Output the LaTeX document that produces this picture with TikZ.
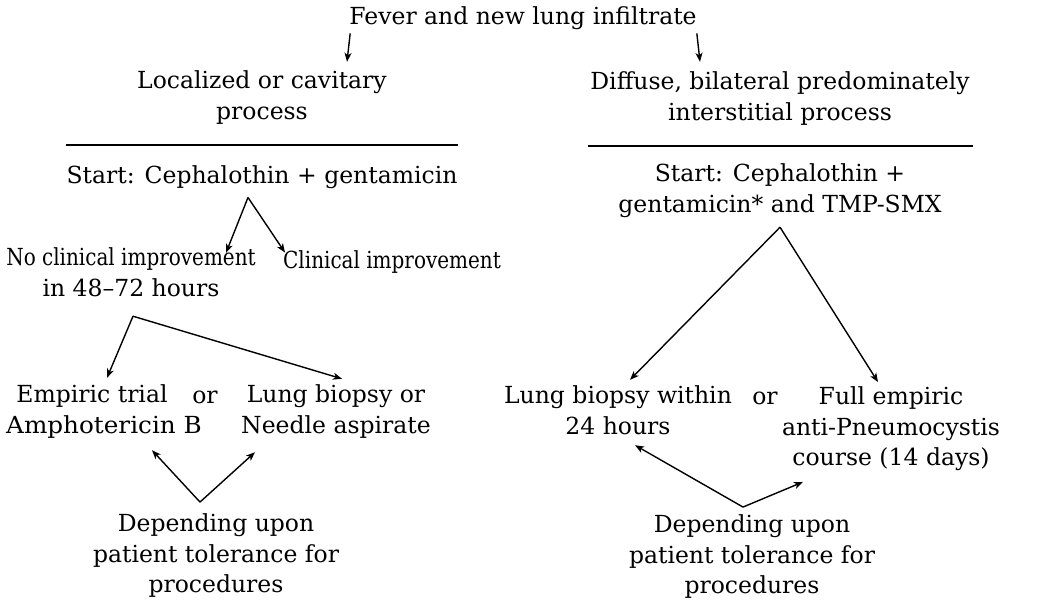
\documentclass[tikz,border=0pt]{standalone}
\usepackage{fontspec}
\usepackage{graphicx}
\setmainfont{DejaVu Serif}
\usetikzlibrary{calc,arrows.meta}
% text narrowed or widened horizontally only
\newcommand\narrow[2]{\scalebox{#1}[1]{#2}}
\begin{document}
\begin{tikzpicture}[x=1pt,y=-1pt,
  txt/.style={inner sep=0pt,align=center,font=\fontsize{23.5}{30.5}\selectfont},
  arr/.style={line width=1.4pt,-{Stealth[length=9pt,width=7pt,inset=2.5pt]}},
  rule/.style={line width=2pt}]
\useasboundingbox (0,0) rectangle (1040,606);

% header and the two kinds of infiltrate
\node[txt] (fever) at (523,18) {\strut Fever and new lung infiltrate};
\node[txt] (loc) at (262,98) {\strut Localized or cavitary\\\strut process};
\node[txt] (dif) at (780,99) {\strut Diffuse, bilateral predominately\\\strut interstitial process};

% left branch
\node[txt] (startL) at (262,177) {\strut Start: Cephalothin + gentamicin};
\node[txt] (noimp) at (131,275) {\strut\narrow{0.85}{No clinical improvement}\\\strut in 48--72 hours};
\node[txt] (clin) at (392,262) {\strut\narrow{0.85}{Clinical improvement}};
\node[txt] (emp) at (104,412) {\strut Empiric trial\hspace*{24pt}\mbox{}\\\strut \narrow{1.05}{Amphotericin B}};
\node[txt] (orL) at (205,397) {\strut or};
\node[txt] (lung) at (336,412) {\strut Lung biopsy or\\\strut Needle aspirate};
\node[txt] (depL) at (216,556) {\strut Depending upon\\\strut patient tolerance for\\\strut procedures};

% right branch
\node[txt] (startR) at (780,191) {\strut Start: Cephalothin +\\\strut gentamicin* and TMP-SMX};
\node[txt] (lungR) at (618,413) {\strut Lung biopsy within\\\strut 24 hours};
\node[txt] (orR) at (765,398) {\strut or};
\node[txt] (full) at (891,429) {\strut Full empiric\\\strut anti-Pneumocystis\\\strut course (14 days)};
\node[txt] (depR) at (752,557) {\strut Depending upon\\\strut patient tolerance for\\\strut procedures};

% rules under the headings
\draw[rule] ($(startL.north west)+(0,-16.75)$) -- ($(startL.north east)+(0,-16.75)$);
\draw[rule] ($(dif.south west)+(-2,16.5)$) -- ($(dif.south east)+(3,16.5)$);

% fork points
\coordinate (fL) at ($(startL.south)+(-14,5)$);
\coordinate (gL) at ($(noimp.south)+(2,10.5)$);
\coordinate (hL) at ($(depL.north)+(-16,-8)$);
\coordinate (fR) at ($(startR.south)+(0,5.5)$);
\coordinate (hR) at ($(depR.north)+(-9,-4)$);

% connectors
\draw[arr] ($(fever.south west)+(1,0)$) -- ($(loc.north)+(85,-5.5)$);
\draw[arr] ($(fever.south east)+(0,0)$) -- ($(dif.north)+(-80,-6.5)$);

\draw[arr] (fL) -- ($(noimp.north)+(95,8.5)$);
\draw[arr] (fL) -- ($(clin.north)+(-107,6)$);
\draw[arr] (gL) -- ($(emp.north)+(3,-3.5)$);
\draw[arr] (gL) -- ($(lung.north)+(6,-2.5)$);
\draw[arr] (hL) -- ($(emp.south)+(48,7.5)$);
\draw[arr] (hL) -- ($(lung.south)+(-81,9.5)$);

\draw[arr] (fR) -- ($(lungR.north)+(12,-2.5)$);
\draw[arr] (fR) -- ($(full.north)+(-13,-1)$);
\draw[arr] (hR) -- ($(lungR.south)+(17,1.5)$);
\draw[arr] (hR) -- ($(full.south)+(-88,7)$);
\end{tikzpicture}
\end{document}
